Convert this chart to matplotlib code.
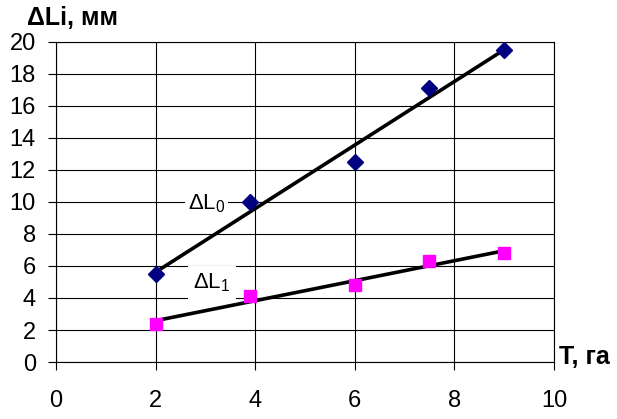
import numpy as np
import matplotlib
matplotlib.use('Agg')
import matplotlib.pyplot as plt

plt.rcParams['font.family'] = ['Liberation Sans', 'DejaVu Sans']
plt.rcParams['mathtext.fontset'] = 'custom'
plt.rcParams['mathtext.rm'] = 'Liberation Sans'
plt.rcParams['mathtext.it'] = 'Liberation Sans'

# данные с графика
T = [2, 3.9, 6, 7.5, 9]
dL0 = [5.5, 10.0, 12.5, 17.1, 19.5]
dL1 = [2.4, 4.1, 4.8, 6.3, 6.8]

xticks = [0, 2, 4, 6, 8, 10]
yticks = [0, 2, 4, 6, 8, 10, 12, 14, 16, 18, 20]

fig = plt.figure(figsize=(6.17, 4.19), dpi=100)
ax = fig.add_axes([0.0908, 0.136, 0.807, 0.764])

# линии тренда (линейная аппроксимация)
xs = np.array([min(T), max(T)])
for y in (dL0, dL1):
    k, b = np.polyfit(T, y, 1)
    ax.plot(xs, k * xs + b, color='black', linewidth=2.6, zorder=3)

ax.plot(T, dL0, linestyle='none', marker='D', markersize=8,
        color='#000080', zorder=4)
ax.plot(T, dL1, linestyle='none', marker='s', markersize=8,
        color='#FF00FF', zorder=4)

ax.text(3.03, 9.9, r'ΔL$_0$', fontsize=16, ha='center', va='center',
        bbox=dict(facecolor='white', edgecolor='none', pad=2), zorder=5)
ax.text(3.13, 4.95, r'ΔL$_1$', fontsize=16, ha='center', va='center',
        bbox=dict(facecolor='white', edgecolor='none', pad=4), zorder=5)

ax.set_xlim(0, 10)
ax.set_ylim(0, 20)
ax.set_xticks(xticks)
ax.set_yticks(yticks)
ax.tick_params(axis='both', labelsize=17, length=5.5, width=0.8, color='black')
ax.tick_params(axis='x', pad=15)
ax.tick_params(axis='y', pad=9)
ax.grid(True, color='black', linewidth=0.8)
ax.set_axisbelow(True)
for s in ax.spines.values():
    s.set_linewidth(0.8)

fig.text(0.043, 0.957, 'ΔLi, мм', fontsize=18, fontweight='bold',
         ha='left', va='center')
fig.text(0.906, 0.148, 'T, га', fontsize=18, fontweight='bold',
         ha='left', va='center')

fig.savefig('out.png', dpi=100, facecolor='white')
